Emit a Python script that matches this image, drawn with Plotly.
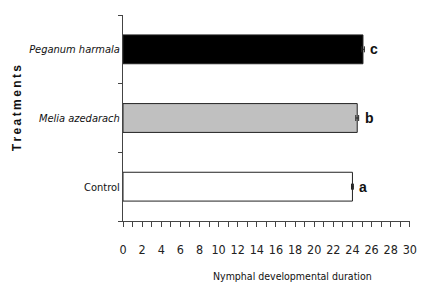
import plotly.graph_objects as go

categories = ["Control", "<i>Melia azedarach</i>", "<i>Peganum harmala</i>"]
durations = [24.0, 24.5, 25.1]
errors = [0.1, 0.15, 0.15]
letters = ["a", "b", "c"]
fill_colors = ["#ffffff", "#c0c0c0", "#000000"]
x_ticks = list(range(0, 31, 2))

NARROW = "DejaVu Sans Condensed, Liberation Sans Narrow, sans-serif"

fig = go.Figure()
fig.add_trace(go.Bar(
    y=categories, x=durations, orientation="h",
    marker=dict(color=fill_colors, line=dict(color="#222222", width=1)),
    width=0.42,
    error_x=dict(type="data", array=errors, visible=True, color="#222222", thickness=1, width=3),
))

for cat, v, e, l in zip(categories, durations, errors, letters):
    fig.add_annotation(x=v + e, y=cat, text="<b>" + l + "</b>", showarrow=False,
                       xanchor="left", xshift=4, font=dict(family="Liberation Sans, Arial", size=14, color="#111"))

fig.add_annotation(xref="paper", yref="paper", x=-0.368, y=0.549, xanchor="center", yanchor="middle",
                   text="<b>T\u2009r\u2009e\u2009a\u2009t\u2009m\u2009e\u2009n\u2009t\u2009s</b>",
                   textangle=-90, showarrow=False, font=dict(family="Liberation Sans, Arial", size=12, color="#111"))
fig.add_annotation(xref="paper", yref="paper", x=0.59, y=-0.265, text="Nymphal developmental duration",
                   showarrow=False, yanchor="middle", font=dict(family=NARROW, size=10.5, color="#111"))

fig.update_layout(
    width=417, height=275, plot_bgcolor="white", paper_bgcolor="white",
    margin=dict(l=115, r=15, t=7, b=62, autoexpand=False), showlegend=False,
    xaxis=dict(range=[0, 30.02], tickvals=x_ticks, ticks="outside", ticklen=5, tickcolor="#444",
               showline=True, linecolor="#444", linewidth=1, showgrid=False, zeroline=False,
               automargin=False, ticklabelstandoff=12, ticklabeloverflow="allow",
               minor=dict(dtick=1, ticks="outside", ticklen=5, tickcolor="#444", showgrid=False),
               tickfont=dict(family=NARROW, size=12.5, color="#222")),
    yaxis=dict(type="category", categoryorder="array", categoryarray=categories, range=[-0.5, 2.5],
               tickson="boundaries", ticks="outside", ticklen=4, tickcolor="#444", automargin=False,
               showline=True, linecolor="#444", linewidth=1, showgrid=False,
               tickfont=dict(family=NARROW, size=11, color="#111")),
)

fig.write_html("out.html")
